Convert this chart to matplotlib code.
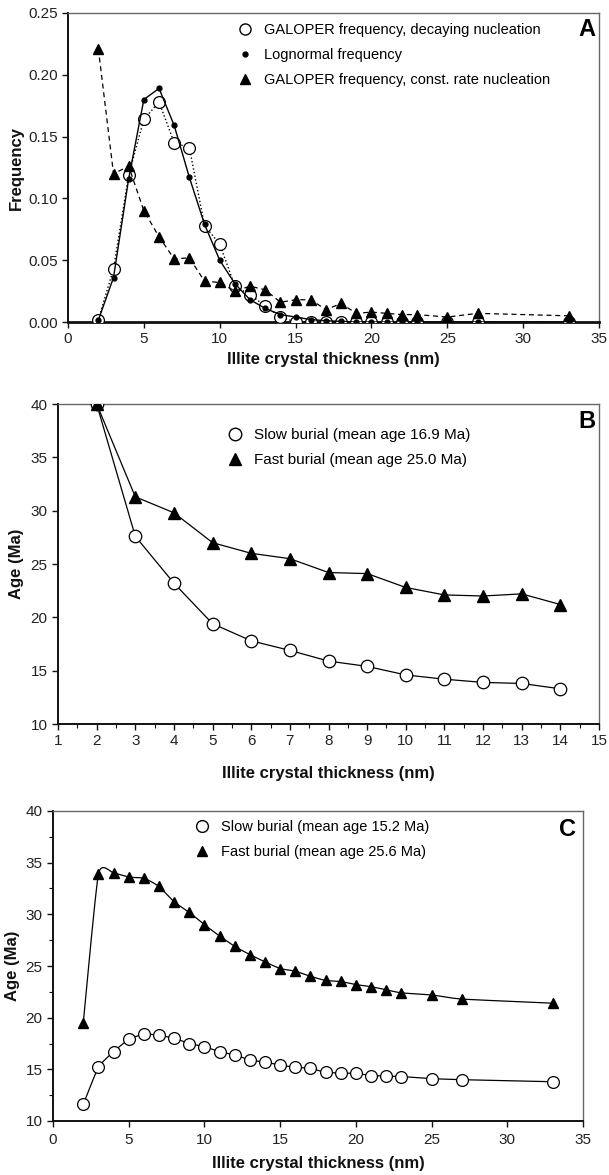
import matplotlib
matplotlib.use('Agg')
import matplotlib.pyplot as plt
from matplotlib.lines import Line2D
from matplotlib.ticker import MultipleLocator, FormatStrFormatter
import numpy as np

plt.rcParams['font.family'] = ['Liberation Sans', 'DejaVu Sans']

# ---- panel A: frequency distributions ----
thick_a = [2, 3, 4, 5, 6, 7, 8, 9, 10, 11, 12, 13, 14, 15, 16, 17, 18,
           19, 20, 21, 22, 23, 25, 27, 33]
galoper_decay = [0.002, 0.043, 0.119, 0.164, 0.178, 0.145, 0.141, 0.078, 0.063,
                 0.029, 0.022, 0.013, 0.004, 0.0, 0.0, 0.0, 0.0,
                 0.0, 0.0, 0.0, 0.0, 0.0, 0.0, 0.0, 0.0]
lognormal = [0.0015, 0.036, 0.116, 0.180, 0.189, 0.159, 0.117, 0.079, 0.050,
             0.031, 0.018, 0.011, 0.006, 0.004, 0.002, 0.001, 0.0005,
             0.0, 0.0, 0.0, 0.0, 0.0, 0.0, 0.0, 0.0]
galoper_const = [0.221, 0.120, 0.126, 0.090, 0.069, 0.051, 0.052, 0.033, 0.032,
                 0.025, 0.029, 0.026, 0.016, 0.018, 0.018, 0.010, 0.015,
                 0.007, 0.008, 0.007, 0.006, 0.006, 0.004, 0.007, 0.005]

# ---- panel B: ages, thickness 2-14 nm ----
thick_b = [2, 3, 4, 5, 6, 7, 8, 9, 10, 11, 12, 13, 14]
slow_b = [40.0, 27.6, 23.2, 19.4, 17.8, 16.9, 15.9, 15.4, 14.6, 14.2, 13.9, 13.8, 13.3]
fast_b = [40.0, 31.3, 29.8, 27.0, 26.0, 25.5, 24.2, 24.1, 22.8, 22.1, 22.0, 22.2, 21.2]

# ---- panel C: ages, thickness 2-33 nm ----
thick_c = [2, 3, 4, 5, 6, 7, 8, 9, 10, 11, 12, 13, 14, 15, 16, 17, 18,
           19, 20, 21, 22, 23, 25, 27, 33]
slow_c = [11.6, 15.2, 16.7, 17.9, 18.4, 18.3, 18.0, 17.5, 17.2, 16.7, 16.4, 15.9,
          15.7, 15.4, 15.2, 15.1, 14.7, 14.65, 14.6, 14.4, 14.35, 14.3, 14.1, 14.0, 13.8]
fast_c = [19.5, 33.9, 34.0, 33.6, 33.5, 32.7, 31.2, 30.2, 29.0, 27.9, 26.9, 26.1,
          25.4, 24.75, 24.5, 24.0, 23.6, 23.5, 23.2, 23.0, 22.7, 22.4, 22.2, 21.8, 21.4]

XLABEL = 'Illite crystal thickness (nm)'


def smooth(x, y, xr, yr, tension=0.45, n=20):
    # cardinal spline through the points, computed in axis-normalised space
    p = np.column_stack([np.asarray(x, float) / xr, np.asarray(y, float) / yr])
    pad = np.vstack([p[0], p, p[-1]])
    m = (1 - tension) * (pad[2:] - pad[:-2]) / 2
    t = np.linspace(0, 1, n, endpoint=False)[:, None]
    h00 = 2 * t ** 3 - 3 * t ** 2 + 1
    h10 = t ** 3 - 2 * t ** 2 + t
    h01 = -2 * t ** 3 + 3 * t ** 2
    h11 = t ** 3 - t ** 2
    out = []
    for i in range(len(p) - 1):
        out.append(h00 * p[i] + h10 * m[i] + h01 * p[i + 1] + h11 * m[i + 1])
    out.append(p[-1][None, :])
    out = np.vstack(out)
    return out[:, 0] * xr, out[:, 1] * yr


def style(ax, xpad):
    for sp in ['top', 'right']:
        ax.spines[sp].set_color('#666666')
        ax.spines[sp].set_linewidth(1.0)
    for sp in ['left', 'bottom']:
        ax.spines[sp].set_color('#111111')
        ax.spines[sp].set_linewidth(1.4)
    ax.tick_params(which='both', direction='out', colors='#111111', labelcolor='#222222',
                   labelsize=11, top=False, right=False)
    ax.tick_params(which='major', length=4, width=1)
    ax.tick_params(which='minor', length=3, width=0.8)
    ax.set_xlabel(XLABEL, fontsize=12, fontweight='bold', color='#111111', labelpad=xpad)


def marker_legend(ax, items, anchor, fs=10.5):
    handles = [Line2D([], [], linestyle='none', **kw) for kw, _ in items]
    labels = [lab for _, lab in items]
    ax.legend(handles, labels, loc='upper left', bbox_to_anchor=anchor,
              bbox_transform=ax.figure.transFigure, frameon=False,
              handlelength=1.0, handletextpad=0.8, labelspacing=0.75,
              fontsize=fs, borderaxespad=0, borderpad=0)


W, H = 609, 1175
fig = plt.figure(figsize=(W / 100, H / 100), dpi=100)

open_c = dict(marker='o', mfc='white', mec='black', mew=0.9)
tri = dict(marker='^', mfc='black', mec='black')

# ---------------- A ----------------
ax = fig.add_axes([68 / W, 1 - 322 / H, 531 / W, 309 / H])
ax.plot(thick_a, galoper_decay, linestyle=':', color='black', lw=1.0, ms=8.5, zorder=3, **open_c)
ax.plot(thick_a, lognormal, linestyle='-', color='black', lw=1.0, marker='o', ms=3.5,
        mfc='black', mec='black', zorder=4)
ax.plot(thick_a, galoper_const, linestyle='--', color='black', lw=0.9, ms=7, zorder=5,
        dashes=(4, 3), **tri)
ax.set_xlim(0, 35)
ax.set_ylim(0, 0.25)
ax.xaxis.set_major_locator(MultipleLocator(5))
ax.yaxis.set_major_locator(MultipleLocator(0.05))
ax.yaxis.set_major_formatter(FormatStrFormatter('%.2f'))
style(ax, 4)
ax.spines['bottom'].set_linewidth(2.0)
ax.set_ylabel('Frequency', fontsize=12, fontweight='bold', color='#111111', labelpad=3)
marker_legend(ax, [(dict(marker='o', mfc='white', mec='black', ms=8), 'GALOPER frequency, decaying nucleation'),
                   (dict(marker='o', mfc='black', mec='black', ms=3.5), 'Lognormal frequency'),
                   (dict(marker='^', mfc='black', mec='black', ms=7), 'GALOPER frequency, const. rate nucleation')],
              (238 / W, 1 - 23 / H))
ax.text(587 / W, 1 - 30 / H, 'A', transform=fig.transFigure, fontsize=17, fontweight='bold',
        ha='center', va='center')

# ---------------- B ----------------
ax = fig.add_axes([58 / W, 1 - 724 / H, 541 / W, 320 / H])
ax.plot(thick_b, slow_b, '-', color='black', lw=0.9, ms=9, zorder=3, **open_c)
ax.plot(thick_b, fast_b, '-', color='black', lw=0.9, ms=8, zorder=4, **tri)
ax.set_xlim(1, 15)
ax.set_ylim(10, 40)
ax.xaxis.set_major_locator(MultipleLocator(1))
ax.xaxis.set_minor_locator(MultipleLocator(0.5))
ax.yaxis.set_major_locator(MultipleLocator(5))
style(ax, 13)
ax.set_ylabel('Age (Ma)', fontsize=12, fontweight='bold', color='#111111', labelpad=5)
marker_legend(ax, [(dict(marker='o', mfc='white', mec='black', ms=9), 'Slow burial (mean age 16.9 Ma)'),
                   (dict(marker='^', mfc='black', mec='black', ms=8), 'Fast burial (mean age 25.0 Ma)')],
              (227 / W, 1 - 428 / H), fs=11)
ax.text(587 / W, 1 - 422 / H, 'B', transform=fig.transFigure, fontsize=17, fontweight='bold',
        ha='center', va='center')

# ---------------- C ----------------
ax = fig.add_axes([53 / W, 1 - 1121 / H, 530 / W, 310 / H])
sx, sy = smooth(thick_c, slow_c, 35, 30)
fx, fy = smooth(thick_c, fast_c, 35, 30)
ax.plot(sx, sy, '-', color='black', lw=0.9, zorder=2)
ax.plot(fx, fy, '-', color='black', lw=0.9, zorder=2)
ax.plot(thick_c, slow_c, linestyle='none', ms=8.5, zorder=3, **open_c)
ax.plot(thick_c, fast_c, linestyle='none', ms=7.5, zorder=4, **tri)
ax.set_xlim(0, 35)
ax.set_ylim(10, 40)
ax.xaxis.set_major_locator(MultipleLocator(5))
ax.yaxis.set_major_locator(MultipleLocator(5))
ax.yaxis.set_minor_locator(MultipleLocator(2.5))
style(ax, 6)
ax.tick_params(axis='x', which='major', pad=5)
ax.set_ylabel('Age (Ma)', fontsize=12, fontweight='bold', color='#111111', labelpad=4)
marker_legend(ax, [(dict(marker='o', mfc='white', mec='black', ms=8.5), 'Slow burial (mean age 15.2 Ma)'),
                   (dict(marker='^', mfc='black', mec='black', ms=7.5), 'Fast burial (mean age 25.6 Ma)')],
              (195 / W, 1 - 820 / H), fs=10.5)
ax.text(568 / W, 1 - 829 / H, 'C', transform=fig.transFigure, fontsize=17, fontweight='bold',
        ha='center', va='center')

fig.savefig('out.png', dpi=100)
